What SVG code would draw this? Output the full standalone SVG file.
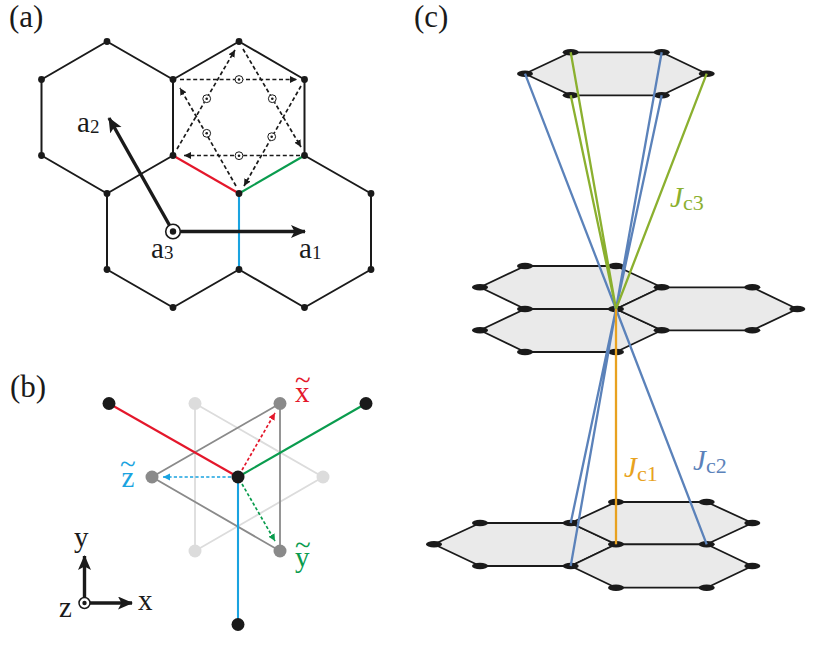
<svg xmlns="http://www.w3.org/2000/svg" width="829" height="646" viewBox="0 0 829 646">
<style>
text{font-family:"Liberation Serif","Times New Roman",serif;fill:#1a1a1a}
.lab{font-size:31px}.vec{font-size:29px}.sub{font-size:19px}
.hex{fill:none;stroke:#1a1a1a;stroke-width:2;stroke-linejoin:round}
.ph{fill:#eaeaea;stroke:#1a1a1a;stroke-width:1.8;stroke-linejoin:round}
.dash{fill:none;stroke:#1a1a1a;stroke-width:1.7;stroke-dasharray:4 2.6}
.v{fill:#1a1a1a}
.j{stroke-width:2.3;fill:none}
.blue{stroke:#5b82ba}.green{stroke:#8bb02f}.orange{stroke:#e8a220}
.dg{stroke:#8a8a8a;stroke-width:1.8;fill:none}.lg{stroke:#dcdcdc;stroke-width:1.8;fill:none}
.bond{fill:none;stroke-width:2.1}
.thick{stroke:#1a1a1a;stroke-width:3.4;fill:none}
.i{font-style:italic}
</style>
<defs>
<marker id="ah" markerUnits="userSpaceOnUse" markerWidth="16" markerHeight="14" refX="14" refY="6.500" orient="auto"><path d="M0 0L15 6.500L0 13L3.500 6.500Z" fill="#1a1a1a"/></marker>
<marker id="dk" markerUnits="userSpaceOnUse" markerWidth="8" markerHeight="8" refX="7" refY="3.500" orient="auto"><path d="M0 0L7 3.500L0 7Z" fill="#1a1a1a"/></marker>
<marker id="dr" markerUnits="userSpaceOnUse" markerWidth="8" markerHeight="8" refX="7" refY="3.500" orient="auto"><path d="M0 0L7 3.500L0 7Z" fill="#e4172b"/></marker>
<marker id="dg" markerUnits="userSpaceOnUse" markerWidth="8" markerHeight="8" refX="7" refY="3.500" orient="auto"><path d="M0 0L7 3.500L0 7Z" fill="#0a9c4e"/></marker>
<marker id="dc" markerUnits="userSpaceOnUse" markerWidth="8" markerHeight="8" refX="7" refY="3.500" orient="auto"><path d="M0 0L7 3.500L0 7Z" fill="#1aa3e0"/></marker>
<g id="cd"><circle r="3.900" fill="#fff" stroke="#1a1a1a" stroke-width="1"/><circle r="1.300" fill="#1a1a1a"/></g>
<circle id="p" r="3.400" class="v"/>
<ellipse id="e" rx="8" ry="3.200" class="v"/>
</defs>

<g id="panel-a">
<text class="lab" x="9" y="27">(a)</text>
<g id="lattice">
<path class="hex" d="M173 155.500L107 193.500L41.500 155.500V79.500L107 41.500L173 79.500V155.500M173 79.500L239 41.500L304.500 79.500V155.500M304.500 155.500L371 193.500V269.500L304.500 307.500L239 269.500L173 307.500L107 269.500V193.500"/>
<path class="bond" stroke="#e4172b" d="M173 155.500L239 193.500"/>
<path class="bond" stroke="#0a9c4e" d="M239 193.500L304.500 155.500"/>
<path class="bond" stroke="#1aa3e0" d="M239 193.500V269.500"/>
</g>
<g id="lattice-sites">
<use href="#p" x="107" y="41.500"/><use href="#p" x="239" y="41.500"/><use href="#p" x="41.500" y="79.500"/><use href="#p" x="173" y="79.500"/><use href="#p" x="304.500" y="79.500"/><use href="#p" x="41.500" y="155.500"/><use href="#p" x="173" y="155.500"/><use href="#p" x="304.500" y="155.500"/><use href="#p" x="107" y="193.500"/><use href="#p" x="239" y="193.500"/><use href="#p" x="371" y="193.500"/><use href="#p" x="107" y="269.500"/><use href="#p" x="239" y="269.500"/><use href="#p" x="371" y="269.500"/><use href="#p" x="173" y="307.500"/><use href="#p" x="304.500" y="307.500"/>
</g>
<g id="star">
<path class="dash" marker-end="url(#dk)" d="M177 149L235 50"/>
<path class="dash" marker-end="url(#dk)" d="M243 49L301 147"/>
<path class="dash" marker-end="url(#dk)" d="M300 155.500H184"/>
<path class="dash" marker-end="url(#dk)" d="M180 79.500H297"/>
<path class="dash" marker-end="url(#dk)" d="M301 86L244 186"/>
<path class="dash" marker-end="url(#dk)" d="M236 186L180 88"/>
<use href="#cd" x="239" y="79.500"/><use href="#cd" x="206.700" y="98.700"/><use href="#cd" x="272.300" y="98.700"/><use href="#cd" x="206.700" y="133.300"/><use href="#cd" x="271.700" y="136.700"/><use href="#cd" x="239" y="155.700"/>
</g>
<g id="vectors">
<path class="thick" marker-end="url(#ah)" d="M173 231.500L109 118"/>
<path class="thick" marker-end="url(#ah)" d="M173 231.500H305"/>
<circle cx="173" cy="231.500" r="7.300" fill="#fff" stroke="#1a1a1a" stroke-width="1.600"/><circle cx="173" cy="231.500" r="3.200" fill="#1a1a1a"/>
<text class="vec" x="77" y="132">a<tspan class="sub" dy="1">2</tspan></text>
<text class="vec" x="151" y="258">a<tspan class="sub" dy="1">3</tspan></text>
<text class="vec" x="299" y="258">a<tspan class="sub" dy="1">1</tspan></text>
</g>
</g>

<g id="panel-b">
<text class="lab" x="10" y="397">(b)</text>
<g id="triangles">
<path class="lg" d="M195 403.500L323 477L195 551Z"/>
<path class="dg" d="M280 403.500L152 477L280 551Z"/>
</g>
<g id="bonds">
<path class="bond" stroke="#e4172b" d="M109 403.500L238 477"/>
<path class="bond" stroke="#0a9c4e" d="M366 403.500L238 477"/>
<path class="bond" stroke="#1aa3e0" d="M238 477V624.500"/>
<path class="bond" style="stroke-width:1.700" stroke="#e4172b" stroke-dasharray="3.200 2.200" marker-end="url(#dr)" d="M242 470L275 413"/>
<path class="bond" style="stroke-width:1.700" stroke="#0a9c4e" stroke-dasharray="3.200 2.200" marker-end="url(#dg)" d="M242 484L275 541"/>
<path class="bond" style="stroke-width:1.700" stroke="#1aa3e0" stroke-dasharray="3.200 2.200" marker-end="url(#dc)" d="M231 477H163"/>
</g>
<g id="sites">
<circle cx="195" cy="403.500" r="6.500" fill="#dcdcdc"/><circle cx="323" cy="477" r="6.500" fill="#dcdcdc"/><circle cx="195" cy="551" r="6.500" fill="#dcdcdc"/>
<circle cx="280" cy="403.500" r="6.500" fill="#8a8a8a"/><circle cx="152" cy="477" r="6.500" fill="#8a8a8a"/><circle cx="280" cy="551" r="6.500" fill="#8a8a8a"/>
<circle cx="109" cy="403.500" r="6.500" class="v"/><circle cx="366" cy="403.500" r="6.500" class="v"/><circle cx="238" cy="477" r="6.500" class="v"/><circle cx="238" cy="624.500" r="6.500" class="v"/>
</g>
<text class="vec" x="295" y="402" style="fill:#e4172b">x<tspan dx="-14.500" dy="-12" style="fill:#e4172b">~</tspan></text>
<text class="vec" x="295" y="567" style="fill:#0a9c4e">y<tspan dx="-14.500" dy="-12" style="fill:#0a9c4e">~</tspan></text>
<text class="vec" x="120" y="487" style="fill:#1aa3e0">z<tspan dx="-14.300" dy="-13" style="fill:#1aa3e0">~</tspan></text>
<g id="axes">
<path class="thick" marker-end="url(#ah)" d="M84.500 603V556"/>
<path class="thick" marker-end="url(#ah)" d="M84.500 603H132"/>
<circle cx="84.500" cy="603" r="5.500" fill="#fff" stroke="#1a1a1a" stroke-width="1.500"/><circle cx="84.500" cy="603" r="2.200" fill="#1a1a1a"/>
<text class="vec" x="74" y="547">y</text><text class="vec" x="138" y="610">x</text><text class="vec" x="59" y="617">z</text>
</g>
</g>

<g id="panel-c">
<text class="lab" x="414" y="27">(c)</text>
<g id="plaquettes">
<path class="ph" d="M570.700 52.300H661.700L706.700 73.700L661.700 95.300H570.700L525 73.700Z"/>
<path class="ph" d="M525 266H616L661.700 287.300L616 309H525L480 287.300Z"/>
<path class="ph" d="M525 309H616L661.700 330.300L616 352H525L480 330.300Z"/>
<path class="ph" d="M616 309L661.700 287.300H752.300L797.300 309L752.300 330.300H661.700Z"/>
<path class="ph" d="M480 523H570.700L616 544.300L570.700 566H480L434 544.300Z"/>
<path class="ph" d="M570.700 523L616 502H706.700L752.300 523L706.700 544.300H616Z"/>
<path class="ph" d="M616 544.300H706.700L752.300 566L706.700 587.700H616L570.700 566Z"/>
</g>
<g id="layer-sites">
<use href="#e" x="570.700" y="52.300"/><use href="#e" x="661.700" y="52.300"/><use href="#e" x="525" y="73.700"/><use href="#e" x="706.700" y="73.700"/><use href="#e" x="570.700" y="95.300"/><use href="#e" x="661.700" y="95.300"/>
<use href="#e" x="525" y="266"/><use href="#e" x="616" y="266"/><use href="#e" x="480" y="287.300"/><use href="#e" x="661.700" y="287.300"/><use href="#e" x="752.300" y="287.300"/><use href="#e" x="525" y="309"/><use href="#e" x="616" y="309"/><use href="#e" x="797.300" y="309"/><use href="#e" x="480" y="330.300"/><use href="#e" x="661.700" y="330.300"/><use href="#e" x="752.300" y="330.300"/><use href="#e" x="525" y="352"/><use href="#e" x="616" y="352"/>
<use href="#e" x="616" y="502"/><use href="#e" x="706.700" y="502"/><use href="#e" x="480" y="523"/><use href="#e" x="570.700" y="523"/><use href="#e" x="752.300" y="523"/><use href="#e" x="434" y="544.300"/><use href="#e" x="616" y="544.300"/><use href="#e" x="706.700" y="544.300"/><use href="#e" x="480" y="566"/><use href="#e" x="570.700" y="566"/><use href="#e" x="752.300" y="566"/><use href="#e" x="616" y="587.700"/><use href="#e" x="706.700" y="587.700"/>
</g>
<g id="couplings">
<path class="j blue" d="M525 73.700L616 309M661.700 52.300L616 309M661.700 95.300L616 309M570.700 523L616 309M570.700 566L616 309M706.700 544.300L616 309"/>
<path class="j green" d="M570.700 52.300L616 309M570.700 95.300L616 309M706.700 73.700L616 309"/>
<path class="j orange" d="M616 309V544.300"/>
</g>
<text class="vec i" x="670" y="207" style="fill:#8bb02f">J<tspan dy="2.500" style="font-size:22px;font-style:normal;fill:#8bb02f">c3</tspan></text>
<text class="vec i" x="624" y="477" style="fill:#e8a220">J<tspan dy="4" style="font-size:22px;font-style:normal;fill:#e8a220">c1</tspan></text>
<text class="vec i" x="693" y="470" style="fill:#5b82ba">J<tspan dy="2.500" style="font-size:22px;font-style:normal;fill:#5b82ba">c2</tspan></text>
</g>
</svg>
